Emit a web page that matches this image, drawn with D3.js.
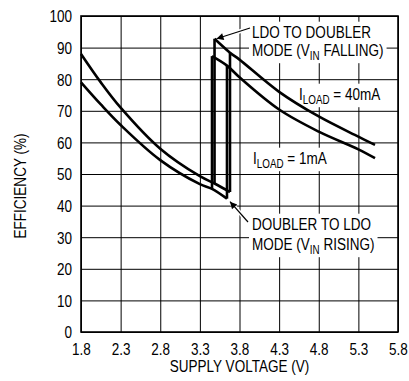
<!DOCTYPE html>
<html><head><meta charset="utf-8">
<script src="https://cdn.jsdelivr.net/npm/d3@7"></script>
<style>
html,body{margin:0;padding:0;background:#fff;}
svg text{font-family:"Liberation Sans",Arial,sans-serif;fill:#000;}
</style></head>
<body><svg id="c" width="409" height="381"></svg>
<script>
// ---- data ----
const xTicks = [1.8, 2.3, 2.8, 3.3, 3.8, 4.3, 4.8, 5.3, 5.8];
const yTicks = [0, 10, 20, 30, 40, 50, 60, 70, 80, 90, 100];
// I_LOAD = 40mA
const load40DoublerV = [1.8, 2.05, 2.3, 2.8, 3.3, 3.485, 3.68];
const load40DoublerE = [88, 79, 71, 58, 49.3, 47, 44.3];
const load40LdoV = [3.485, 3.68, 3.8, 4.3, 4.8, 5.3, 5.51];
const load40LdoE = [92.8, 88.4, 86.2, 76, 68.2, 61.8, 59.2];
// I_LOAD = 1mA
const load1DoublerV = [1.8, 2.05, 2.3, 2.8, 3.3, 3.453, 3.642];
const load1DoublerE = [79, 72, 65.5, 54.4, 46.8, 45.3, 42.2];
const load1LdoV = [3.453, 3.642, 3.8, 4.3, 4.8, 5.3, 5.51];
const load1LdoE = [87.3, 84.3, 80.6, 70.4, 63.4, 57.8, 55];

const svg = d3.select("#c");
const L = 81, T = 16, R = 398, B = 332;
const x = d3.scaleLinear().domain([1.8, 5.8]).range([L, R]);
const y = d3.scaleLinear().domain([0, 100]).range([B, T]);
const FS = 16.5, SX = 0.82;

// horizontally condense a text element around its anchor x
function squeeze(el, ax) {
  d3.select(el).attr("transform", `translate(${ax},0) scale(${SX},1) translate(${-ax},0)`);
}

// grid + axes
const gx = svg.append("g").attr("transform", `translate(0,${B})`)
  .call(d3.axisBottom(x).tickValues(xTicks).tickFormat(d3.format(".1f")).tickSize(-(B - T)).tickPadding(11));
const gy = svg.append("g").attr("transform", `translate(${L},0)`)
  .call(d3.axisLeft(y).tickValues(yTicks).tickFormat(d3.format("d")).tickSize(-(R - L)).tickPadding(9));
[gx, gy].forEach(g => {
  g.select(".domain").remove();
  g.selectAll("line").attr("stroke", "#000").attr("stroke-width", 1);
  g.selectAll("text").attr("font-size", FS).attr("font-family", null);
});
gy.selectAll("text").attr("dy", "0.36em").each(function () { squeeze(this, -9); });
gx.selectAll("text").each(function () { squeeze(this, 0); });
svg.append("rect").attr("x", L).attr("y", T).attr("width", R - L).attr("height", B - T)
  .attr("fill", "none").attr("stroke", "#000").attr("stroke-width", 1.6);

// axis titles
const xt = svg.append("text").attr("x", (L + R) / 2).attr("y", 372).attr("text-anchor", "middle")
  .attr("font-size", FS).text("SUPPLY VOLTAGE (V)");
squeeze(xt.node(), (L + R) / 2);
svg.append("g").attr("transform", "translate(26,186) rotate(-90)")
  .append("text").attr("text-anchor", "middle").attr("font-size", FS)
  .attr("transform", `scale(${SX},1)`).text("EFFICIENCY (%)");

// annotations with white knock-out
function label(lines, x0, y0, lh) {
  const g = svg.append("g");
  const t = g.append("text").attr("font-size", FS);
  lines.forEach((parts, i) => {
    parts.forEach((p, j) => {
      const ts = t.append("tspan").text(p.t);
      if (j === 0) ts.attr("x", x0).attr("y", y0 + i * lh);
      if (p.sub) ts.attr("font-size", 12).attr("dy", 4);
      else if (j > 0 && parts[j - 1].sub) ts.attr("dy", -4);
    });
  });
  squeeze(t.node(), x0);
  const bb = t.node().getBBox();
  const bx0 = x0 + (bb.x - x0) * SX, bw = bb.width * SX;
  g.insert("rect", "text").attr("x", bx0 - 3).attr("y", bb.y - 1)
    .attr("width", bw + 6).attr("height", bb.height + 2).attr("fill", "#fff");
  return g;
}

// arrows
const defs = svg.append("defs");
defs.append("marker").attr("id", "ah").attr("viewBox", "0 0 10 10").attr("refX", 10).attr("refY", 5)
  .attr("markerWidth", 9).attr("markerHeight", 7).attr("markerUnits", "userSpaceOnUse").attr("orient", "auto")
  .append("path").attr("d", "M0,0 L10,5 L0,10 Z").attr("fill", "#000");

function arrow(x1, y1, x2, y2) {
  svg.append("line").attr("x1", x1).attr("y1", y1).attr("x2", x2).attr("y2", y2)
    .attr("stroke", "#fff").attr("stroke-width", 4);
  svg.append("line").attr("x1", x1).attr("y1", y1).attr("x2", x2).attr("y2", y2)
    .attr("stroke", "#000").attr("stroke-width", 1.2).attr("marker-end", "url(#ah)");
}

label([[{t: "LDO TO DOUBLER"}], [{t: "MODE (V"}, {t: "IN", sub: true}, {t: " FALLING)"}]], 252, 38, 18);
label([[{t: "I"}, {t: "LOAD", sub: true}, {t: " = 40mA"}]], 299, 100, 18);
label([[{t: "I"}, {t: "LOAD", sub: true}, {t: " = 1mA"}]], 253, 164, 18);
label([[{t: "DOUBLER TO LDO"}], [{t: "MODE (V"}, {t: "IN", sub: true}, {t: " RISING)"}]], 252, 230, 20);
arrow(250, 28, x(load40LdoV[0]) + 2, y(load40LdoE[0]));
arrow(248, 222, x(load40DoublerV[load40DoublerV.length - 1]), y(load1DoublerE[load1DoublerE.length - 1]) + 3);

// curves
const line = d3.line().x(d => x(d[0])).y(d => y(d[1])).curve(d3.curveCatmullRom.alpha(0.5));
const zip = (a, b) => a.map((v, i) => [v, b[i]]);
const curveG = svg.append("g").attr("fill", "none").attr("stroke", "#000").attr("stroke-width", 2.6);
function drawLoad(dv, de, lv, le) {
  curveG.append("path").attr("d", line(zip(dv, de)));
  curveG.append("path").attr("d", line(zip(lv, le)));
  // falling transition: LDO -> doubler at first LDO voltage
  const vf = lv[0], ef = de[dv.indexOf(vf)];
  curveG.append("line").attr("x1", x(vf)).attr("x2", x(vf)).attr("y1", y(le[0])).attr("y2", y(ef));
  // rising transition: doubler -> LDO at last doubler voltage
  const vr = dv[dv.length - 1], er = le[lv.indexOf(vr)];
  curveG.append("line").attr("x1", x(vr)).attr("x2", x(vr)).attr("y1", y(de[de.length - 1])).attr("y2", y(er));
}
drawLoad(load40DoublerV, load40DoublerE, load40LdoV, load40LdoE);
drawLoad(load1DoublerV, load1DoublerE, load1LdoV, load1LdoE);
</script></body></html>
